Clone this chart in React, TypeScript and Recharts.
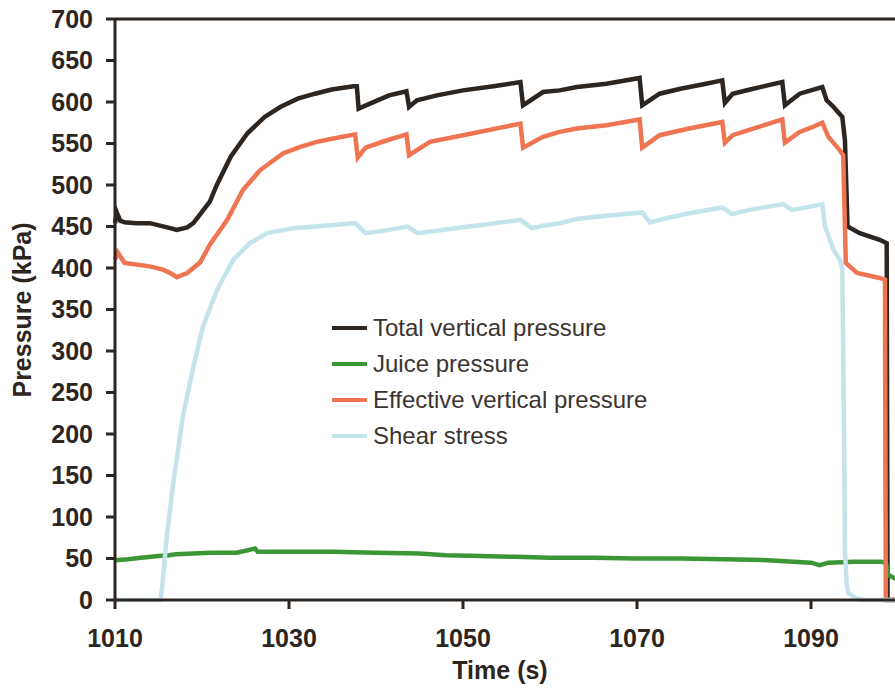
import React from 'react';
import { LineChart, Line, XAxis, YAxis, ReferenceLine } from 'recharts';

// time (s) / pressure (kPa)
const totalT = [1010, 1010.2, 1010.6, 1011.1, 1012.5, 1014, 1016, 1017.1, 1018.3, 1019, 1019.8, 1020.9, 1021.7, 1023.3, 1025.2, 1027.2, 1029, 1031, 1033, 1034.9, 1037.4, 1037.8, 1038, 1039.3, 1041.5, 1043.5, 1043.8, 1044.7, 1047, 1050, 1053.5, 1056.6, 1056.9, 1059.2, 1061.1, 1063.1, 1066.5, 1070.3, 1070.6, 1072.6, 1075, 1077.5, 1079.8, 1080.1, 1081, 1083, 1085, 1086.7, 1087, 1088.7, 1090, 1091.3, 1091.8, 1092.6, 1093.6, 1093.9, 1094.2, 1095.6, 1097.9, 1098.7, 1098.8, 1100];
const totalV = [454, 467, 457, 455, 454, 454, 449, 446, 449, 454, 465, 480, 500, 534, 562, 582, 594, 604, 610, 615, 619, 619, 592, 598, 608, 613, 594, 602, 608, 614, 619, 624, 596, 612, 614, 618, 622, 629, 596, 610, 616, 621, 626, 599, 610, 615, 620, 624, 596, 610, 614, 618, 602, 594, 582, 554, 450, 442, 434, 430, 0, 0];

const juiceT = [1010, 1011.5, 1013, 1015, 1016.2, 1017, 1019, 1021, 1024, 1026.1, 1026.4, 1030, 1035, 1040, 1045, 1048, 1052, 1056, 1060, 1065, 1070, 1075, 1080, 1085, 1088, 1090, 1091, 1092, 1095, 1098, 1098.6, 1098.9, 1100];
const juiceV = [48, 49, 51, 53, 54, 55, 56, 57, 57, 62, 58, 58, 58, 57, 56, 54, 53, 52, 51, 51, 50, 50, 49, 48, 46, 45, 42, 45, 46, 46, 45, 30, 24];

const effT = [1010, 1010.3, 1011.1, 1014, 1015.5, 1016.5, 1017.1, 1018.3, 1019.8, 1020.9, 1021.7, 1022.9, 1024.7, 1026.7, 1029.3, 1031.3, 1033.2, 1035.1, 1037.6, 1037.9, 1038.8, 1041, 1043.5, 1043.8, 1046.2, 1050, 1056.6, 1056.9, 1059.2, 1061.1, 1063.1, 1066.5, 1070.3, 1070.6, 1072.6, 1076, 1079.8, 1080.1, 1081, 1084, 1086.7, 1087, 1088.7, 1090, 1091.3, 1092, 1093.3, 1093.7, 1094, 1095.3, 1097.9, 1098.5, 1098.6, 1100];
const effV = [410, 419, 406, 402, 398, 393, 389, 394, 407, 428, 440, 458, 494, 518, 538, 546, 552, 556, 561, 533, 545, 553, 561, 536, 552, 560, 574, 545, 558, 564, 568, 572, 579, 545, 560, 568, 576, 551, 560, 570, 579, 551, 564, 569, 575, 558, 542, 536, 406, 394, 388, 386, 0, 0];

const shearT = [1010, 1015.2, 1015.4, 1016, 1016.7, 1017.8, 1019, 1020.1, 1021.7, 1023.6, 1025.5, 1027.5, 1030.5, 1034.1, 1037.6, 1038, 1038.8, 1041, 1043.6, 1044.8, 1047, 1050, 1053, 1056.6, 1057.9, 1059.2, 1061.1, 1063.1, 1066.5, 1070.6, 1071.5, 1073, 1076, 1079.8, 1080.9, 1083, 1086.8, 1087.8, 1089.5, 1091.3, 1091.6, 1092.6, 1093.3, 1093.6, 1093.8, 1093.9, 1094.1, 1094.3, 1095.3, 1096, 1100];
const shearV = [0, 0, 14, 81, 141, 221, 281, 329, 373, 410, 430, 442, 448, 451, 454, 450, 442, 445, 450, 442, 445, 449, 453, 458, 448, 451, 454, 459, 463, 467, 455, 459, 466, 473, 465, 470, 477, 470, 473, 477, 450, 422, 410, 400, 200, 60, 20, 8, 2, 0, 0];

const xTicks = [1010, 1030, 1050, 1070, 1090];
const yTicks = [0, 50, 100, 150, 200, 250, 300, 350, 400, 450, 500, 550, 600, 650, 700];

const seriesNames = ['Total vertical pressure', 'Juice pressure', 'Effective vertical pressure', 'Shear stress'];
const colors = ['#2d2520', '#3c9637', '#ef7452', '#c4e4ec'];

const toPoints = (ts: number[], vs: number[]) => ts.map((t, i) => ({ t, v: vs[i] }));
const seriesData = [
    toPoints(totalT, totalV),
    toPoints(juiceT, juiceV),
    toPoints(effT, effV),
    toPoints(shearT, shearV),
];

const ink = '#2d2520';
const font = '"Liberation Sans", Arial, sans-serif';

// legend sits inside the plot, drawn as an overlay so it doesn't eat chart space
const LegendBox = () => (
    <div style={{ position: 'absolute', left: 332, top: 310, fontFamily: font }}>
        {seriesNames.map((name, i) => (
            <div key={name} style={{ display: 'flex', alignItems: 'center', height: 36 }}>
                <div style={{ width: 35, height: 4.5, background: colors[i], marginRight: 6 }} />
                <span style={{ fontSize: 24, color: '#3b3431', whiteSpace: 'nowrap' }}>{name}</span>
            </div>
        ))}
    </div>
);

const yTitle = () => (
    <text
        x={22}
        y={310}
        transform="rotate(-90 22 310)"
        textAnchor="middle"
        dominantBaseline="central"
        style={{ fontSize: 25, fontWeight: 'bold', fill: ink, fontFamily: font }}
    >
        Pressure (kPa)
    </text>
);

const xTitle = () => (
    <text
        x={500}
        y={670}
        textAnchor="middle"
        dominantBaseline="central"
        style={{ fontSize: 25, fontWeight: 'bold', fill: ink, fontFamily: font }}
    >
        Time (s)
    </text>
);

export default function App() {
    const tickStyle = { fontSize: 25, fontWeight: 'bold', fill: ink, fontFamily: font };
    return (
        <div style={{ position: 'absolute', left: 0, top: 0, width: 895, height: 693, overflow: 'hidden', background: '#fff' }}>
            <LineChart width={900} height={693} margin={{ top: 19, right: 2, bottom: 0, left: 0 }}>
                <XAxis
                    dataKey="t"
                    type="number"
                    domain={[1010, 1100]}
                    ticks={xTicks}
                    height={93}
                    tickSize={9}
                    tickMargin={20}
                    tick={tickStyle}
                    axisLine={{ stroke: ink, strokeWidth: 3 }}
                    tickLine={{ stroke: ink, strokeWidth: 3 }}
                    allowDuplicatedCategory={false}
                    label={xTitle}
                />
                <YAxis
                    type="number"
                    domain={[0, 700]}
                    ticks={yTicks}
                    width={115}
                    tickSize={9}
                    tickMargin={13}
                    tick={tickStyle}
                    axisLine={{ stroke: ink, strokeWidth: 3 }}
                    tickLine={{ stroke: ink, strokeWidth: 3 }}
                    label={yTitle}
                />
                <ReferenceLine y={700} stroke={ink} strokeWidth={3} />
                {seriesData.map((d, i) => (
                    <Line
                        key={seriesNames[i]}
                        data={d}
                        dataKey="v"
                        name={seriesNames[i]}
                        type="linear"
                        stroke={colors[i]}
                        strokeWidth={4.5}
                        dot={false}
                        activeDot={false}
                        isAnimationActive={false}
                    />
                ))}
            </LineChart>
            <LegendBox />
        </div>
    );
}
